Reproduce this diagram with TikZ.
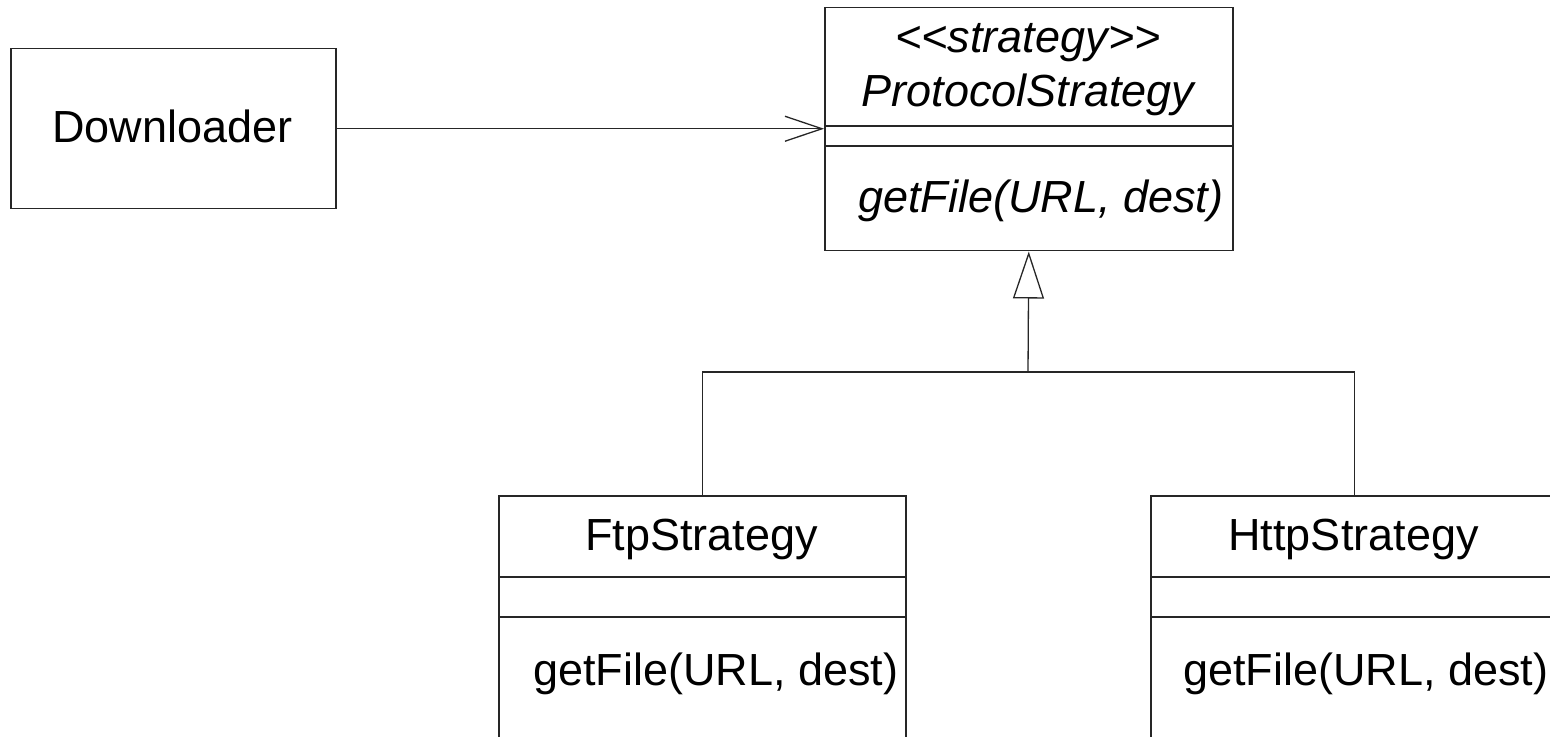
\documentclass[tikz,border=0pt]{standalone}
\usepackage{fontspec}
\setmainfont{Liberation Sans}
\usetikzlibrary{arrows.meta}
\begin{document}
\begin{tikzpicture}[x=0.5pt,y=-0.5pt,
  box/.style={draw=black!85, line width=0.75pt, rectangle, inner sep=0pt, anchor=north west},
  lbl/.style={inner sep=0pt, font=\fontsize{22.5}{27}\selectfont},
  ilbl/.style={lbl, font=\fontsize{22.5}{27}\selectfont\itshape},
  conn/.style={draw=black!85, line width=0.65pt},
]
\useasboundingbox (0,0) rectangle (1550,737);
\clip (0,0) rectangle (1550,737);

% class boxes
\node[box, minimum width=162.5pt, minimum height=80pt] (down) at (10,48) {};
\node[box, minimum width=204pt, minimum height=121.5pt] (proto) at (824,7) {};
\node[box, minimum width=203.5pt, minimum height=130pt] (ftp) at (498,495) {};
\node[box, minimum width=203.5pt, minimum height=130pt] (http) at (1150,495) {};

% compartment dividers
\draw[conn] (proto.west |- 0,126) -- (proto.east |- 0,126);
\draw[conn] (proto.west |- 0,146) -- (proto.east |- 0,146);
\draw[conn] (ftp.west |- 0,577) -- (ftp.east |- 0,577);
\draw[conn] (ftp.west |- 0,617) -- (ftp.east |- 0,617);
\draw[conn] (http.west |- 0,577) -- (http.east |- 0,577);
\draw[conn] (http.west |- 0,617) -- (http.east |- 0,617);

% texts
\node[lbl, anchor=base] (downtxt) at (172.5,143) {Downloader};
\node[ilbl, anchor=base] (stereo) at (1028,53) {<{}<strategy>{}>};
\node[ilbl, anchor=base] (protoname) at (1028,107) {ProtocolStrategy};
\node[ilbl, anchor=base west] (protoop) at (858,213) {getFile(URL, dest)};
\node[lbl, anchor=base] (ftpname) at (701.5,550) {FtpStrategy};
\node[lbl, anchor=base west] (ftpop) at (533,685) {getFile(URL, dest)};
\node[lbl, anchor=base] (httpname) at (1353.5,550) {HttpStrategy};
\node[lbl, anchor=base west] (httpop) at (1183,685) {getFile(URL, dest)};

% association
\draw[conn, -{Straight Barb[length=18.5pt, width=12.5pt]}] (down.east) -- (down.east -| proto.west);

% generalization
\coordinate (join) at (1028,372);
\draw[conn] (ftp.north) |- (join) -| (http.north);
\draw[conn, -{Triangle[open, length=23.5pt, width=15.5pt]}] (join) -- (proto.south);
\end{tikzpicture}
\end{document}
